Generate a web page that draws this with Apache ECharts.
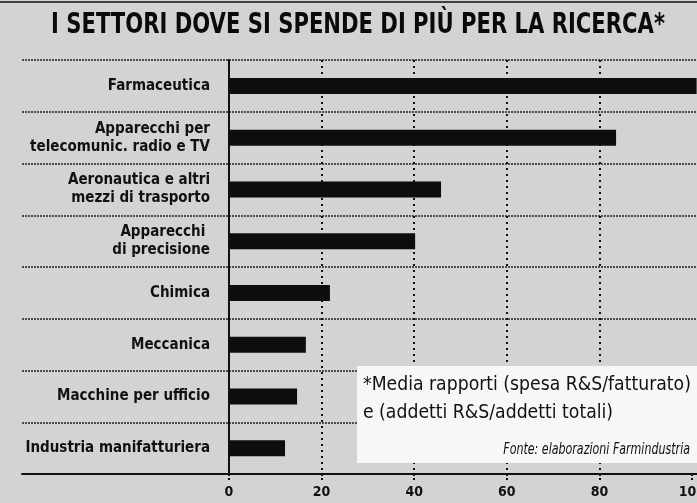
<!DOCTYPE html>
<html>
<head>
<meta charset="utf-8">
<script src="https://cdn.jsdelivr.net/npm/echarts@6/dist/echarts.min.js"></script>
<style>
  html, body { margin: 0; padding: 0; background: #d3d3d3; }
  #cn { width: 697px; height: 503px; }
</style>
</head>
<body>
<div id="cn"></div>
<script>
'use strict';

const titleText = 'I SETTORI DOVE SI SPENDE DI PIÙ PER LA RICERCA*';
const categories = [
    'Farmaceutica',
    'Apparecchi per\ntelecomunic. radio e TV',
    'Aeronautica e altri\nmezzi di trasporto',
    'Apparecchi \ndi precisione',
    'Chimica',
    'Meccanica',
    'Macchine per ufficio',
    'Industria manifatturiera'
];
const values = [101, 83.6, 45.8, 40.2, 21.8, 16.6, 14.7, 12.1];
const noteLines = ['*Media rapporti (spesa R&S/fatturato)', 'e (addetti R&S/addetti totali)'];
const sourceText = 'Fonte: elaborazioni Farmindustria';

const COND = '"DejaVu Sans Condensed", "Liberation Sans", sans-serif';

const chart = echarts.init(document.getElementById('cn'));

const option = {
    backgroundColor: '#d3d3d3',
    animation: false,
    grid: [{
            // background rows, reaching under the labels
            left: 22,
            right: 0,
            top: 60,
            bottom: 29,
            outerBoundsMode: 'none'
        },
        {
            left: 229,
            right: 5,
            top: 60,
            bottom: 29,
            outerBoundsMode: 'none'
        }
    ],
    xAxis: [{
            type: 'value',
            gridIndex: 0,
            min: 0,
            max: 100,
            axisLine: { show: true, onZero: false, lineStyle: { color: '#111', width: 2 } },
            axisTick: { show: false },
            axisLabel: { show: false },
            splitLine: { show: false }
        },
        {
            type: 'value',
            gridIndex: 1,
            min: 0,
            max: 100,
            interval: 20,
            axisLine: { show: false },
            axisTick: { show: true, length: 8, lineStyle: { color: '#111', width: 2, type: [2, 2] } },
            axisLabel: {
                margin: 11,
                fontFamily: COND,
                fontWeight: 'bold',
                fontSize: 14,
                color: '#111'
            },
            splitLine: {
                show: true,
                showMinLine: false,
                showMaxLine: false,
                lineStyle: { color: '#111', width: 2, type: [2, 4] }
            }
        }
    ],
    yAxis: [{
            type: 'category',
            gridIndex: 0,
            data: categories,
            inverse: true,
            axisLine: { show: false },
            axisTick: { show: false },
            axisLabel: { show: false },
            splitLine: { show: true, lineStyle: { color: '#222', width: 1.5, type: [2, 1] } }
        },
        {
            type: 'category',
            gridIndex: 1,
            data: categories,
            inverse: true,
            axisLine: { show: true, lineStyle: { color: '#111', width: 2 } },
            axisTick: { show: false },
            axisLabel: {
                margin: 19,
                fontFamily: COND,
                fontWeight: 'bold',
                fontSize: 15,
                lineHeight: 18,
                color: '#111'
            },
            splitLine: { show: false }
        }
    ],
    series: [{
        type: 'bar',
        xAxisIndex: 1,
        yAxisIndex: 1,
        data: values,
        barWidth: 16,
        clip: false,
        itemStyle: { color: '#0d0d0d' },
        z: 5
    }],
    graphic: [{
            type: 'line',
            shape: { x1: 0, y1: 2, x2: 697, y2: 2 },
            style: { stroke: '#111', lineWidth: 1.5 }
        },
        {
            // condensed title
            type: 'text',
            x: 358,
            y: 25,
            scaleX: 0.81,
            style: {
                text: titleText,
                font: 'bold 29px ' + COND,
                align: 'center',
                verticalAlign: 'middle',
                fill: '#0a0a0a'
            }
        },
        {
            type: 'rect',
            left: 357,
            top: 366,
            shape: { width: 340, height: 97 },
            style: { fill: '#f7f7f7' },
            z: 50
        },
        {
            type: 'text',
            x: 363,
            y: 371,
            scaleX: 0.96,
            style: {
                text: noteLines.join('\n'),
                font: '20px ' + COND,
                lineHeight: 28,
                fill: '#111'
            },
            z: 51
        },
        {
            type: 'text',
            x: 690,
            y: 450,
            scaleX: 0.82,
            style: {
                text: sourceText,
                font: 'italic 15px ' + COND,
                align: 'right',
                verticalAlign: 'middle',
                fill: '#111'
            },
            z: 51
        }
    ]
};

chart.setOption(option);
</script>
</body>
</html>
